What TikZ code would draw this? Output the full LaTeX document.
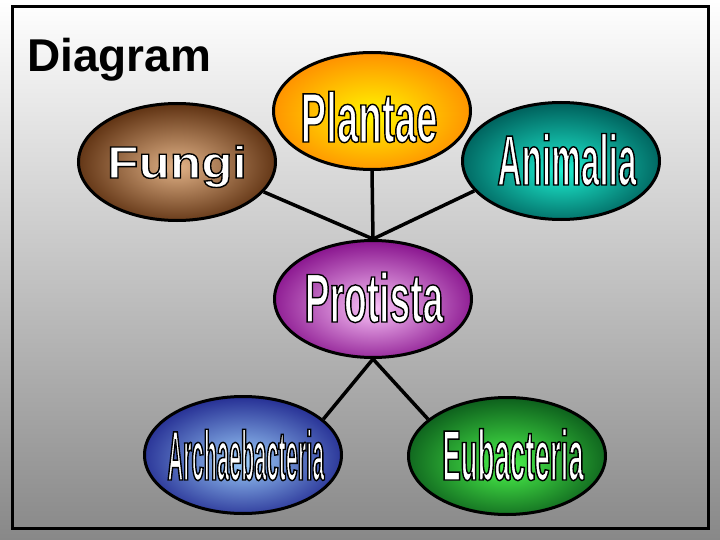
\documentclass[tikz,border=0pt]{standalone}
\usepackage{fontspec}
\setmainfont{Liberation Sans}
\newfontfamily\waFungi{Liberation Sans Bold}[FakeStretch=1.14]
\newfontfamily\waPlant{Liberation Sans Bold}[FakeStretch=0.55]
\newfontfamily\waAnim{Liberation Sans Bold}[FakeStretch=0.47]
\newfontfamily\waProt{Liberation Sans Bold}[FakeStretch=0.54]
\newfontfamily\waArch{Liberation Sans Bold}[FakeStretch=0.31]
\newfontfamily\waEub{Liberation Sans Bold}[FakeStretch=0.39]
\usetikzlibrary{shapes.geometric}

\definecolor{bgbot}{RGB}{136,136,136}
\definecolor{fungiIn}{RGB}{225,178,135}
\definecolor{fungiOut}{RGB}{95,50,18}
\definecolor{plantIn}{RGB}{255,248,0}
\definecolor{plantOut}{RGB}{255,145,0}
\definecolor{animIn}{RGB}{30,240,210}
\definecolor{animOut}{RGB}{0,100,95}
\definecolor{protIn}{RGB}{250,195,248}
\definecolor{protOut}{RGB}{140,25,145}
\definecolor{archIn}{RGB}{155,205,250}
\definecolor{archOut}{RGB}{40,50,150}
\definecolor{eubIn}{RGB}{75,245,75}
\definecolor{eubOut}{RGB}{15,100,30}

\pgfdeclareradialshading{shFungi}{\pgfpoint{0bp}{-2bp}}{color(0bp)=(fungiIn); color(26bp)=(fungiOut); color(50bp)=(fungiOut)}
\pgfdeclareradialshading{shPlant}{\pgfpoint{0bp}{-2bp}}{color(0bp)=(plantIn); color(26bp)=(plantOut); color(50bp)=(plantOut)}
\pgfdeclareradialshading{shAnim}{\pgfpoint{0bp}{-4bp}}{color(0bp)=(animIn); color(26bp)=(animOut); color(50bp)=(animOut)}
\pgfdeclareradialshading{shProt}{\pgfpoint{0bp}{-4bp}}{color(0bp)=(protIn); color(26bp)=(protOut); color(50bp)=(protOut)}
\pgfdeclareradialshading{shArch}{\pgfpoint{0bp}{-3bp}}{color(0bp)=(archIn); color(26bp)=(archOut); color(50bp)=(archOut)}
\pgfdeclareradialshading{shEub}{\pgfpoint{0bp}{-4bp}}{color(0bp)=(eubIn); color(26bp)=(eubOut); color(50bp)=(eubOut)}

% white letters with a thin black outline (text render mode 2)
\newcommand\wordArt[1]{{\color{white}\special{pdf:literal direct 0 G 2 Tr 1.4 w}#1\special{pdf:literal direct 0 Tr}}}

\tikzset{
  kingdom/.style={ellipse, draw=black, line width=3pt, inner sep=0pt,
    minimum width=197pt, minimum height=117pt},
  watext/.style={inner sep=0pt},
  link/.style={draw=black, line width=3.5pt},
}

\begin{document}
\begin{tikzpicture}[x=1pt,y=-1pt]
\useasboundingbox (0,0) rectangle (720,540);
\shade[top color=white, bottom color=bgbot] (0,0) rectangle (720,540);
\draw[line width=3pt] (12,7) rectangle (708,528);

\node[anchor=base west, inner sep=0pt, font=\fontsize{46}{50}\selectfont\bfseries] (title) at (27,72) {Diagram};

\node[kingdom, shading=shFungi] (fungi) at (177,162) {};
\node[kingdom, shading=shPlant] (plantae) at (372,111) {};
\node[kingdom, shading=shAnim] (animalia) at (561,161) {};
\node[kingdom, shading=shProt] (protista) at (373,299) {};
\node[kingdom, shading=shArch] (archae) at (243,455) {};
\node[kingdom, shading=shEub] (eubac) at (507,456) {};

\draw[link] (fungi.-19) -- (protista.north);
\draw[link] (plantae.south) -- (protista.north);
\draw[link] (animalia.-161) -- (protista.north);
\draw[link] (protista.south) -- (archae.24);
\draw[link] (protista.south) -- (eubac.155);

\node[watext, anchor=base] (fungiT) at (177,178) {\wordArt{\waFungi\fontsize{45}{45}\selectfont Fungi}};
\node[watext, anchor=base] (plantaeT) at (369,142) {\wordArt{\waPlant\fontsize{70}{70}\selectfont Plantae}};
\node[watext, anchor=base] (animaliaT) at (567,185) {\wordArt{\waAnim\fontsize{71}{71}\selectfont Animalia}};
\node[watext, anchor=base] (protistaT) at (374,322) {\wordArt{\waProt\fontsize{69}{69}\selectfont Protista}};
\node[watext, anchor=base] (archaeT) at (246,480) {\wordArt{\waArch\fontsize{70}{70}\selectfont Archaebacteria}};
\node[watext, anchor=base] (eubacT) at (513,480) {\wordArt{\waEub\fontsize{71}{71}\selectfont Eubacteria}};
\end{tikzpicture}
\end{document}
